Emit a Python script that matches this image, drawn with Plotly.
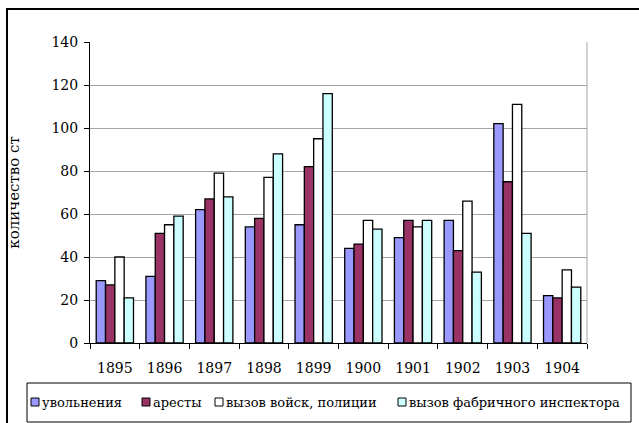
import plotly.graph_objects as go

# data
years = ["1895", "1896", "1897", "1898", "1899", "1900", "1901", "1902", "1903", "1904"]
dismissals = [29, 31, 62, 54, 55, 44, 49, 57, 102, 22]
arrests = [27, 51, 67, 58, 82, 46, 57, 43, 75, 21]
troops = [40, 55, 79, 77, 95, 57, 54, 66, 111, 34]
inspector = [21, 59, 68, 88, 116, 53, 57, 33, 51, 26]

series_names = ["увольнения", "аресты", "вызов войск, полиции", "вызов фабричного инспектора"]
series_colors = ["#9999FF", "#993366", "#FFFFFF", "#CCFFFF"]

# only serif face that actually renders here
serif = "DejaVu Serif"

W, H = 639, 423
# plot area in pixels
L, R, T, B = 90, 587, 42, 343
def px(x):
    return (x - L) / (R - L)
def py(y):
    return (B - y) / (B - T)

fig = go.Figure()
for name, vals, col in zip(series_names, [dismissals, arrests, troops, inspector], series_colors):
    fig.add_trace(go.Bar(
        x=years, y=vals, name=name,
        marker=dict(color=col, line=dict(color="black", width=1.3)),
    ))

shapes = [
    # gray frame on the right of the plot area
    dict(type="line", xref="paper", yref="paper", x0=1, x1=1, y0=0, y1=1,
         line=dict(color="#A6A6A6", width=1)),
    # outer chart border
    dict(type="rect", xref="paper", yref="paper", x0=px(7), x1=px(650), y0=py(440), y1=py(9),
         line=dict(color="black", width=2)),
    # legend box
    dict(type="rect", xref="paper", yref="paper", x0=px(27), x1=px(631), y0=py(422), y1=py(383),
         line=dict(color="black", width=1), fillcolor="white"),
]
annotations = []
# hand made legend: marker left edge in pixels
legend_x = [31, 142, 215, 398]
for name, col, lx in zip(series_names, series_colors, legend_x):
    shapes.append(dict(type="rect", xref="paper", yref="paper",
                       x0=px(lx), x1=px(lx + 8), y0=py(406), y1=py(398),
                       line=dict(color="black", width=1), fillcolor=col))
    annotations.append(dict(text=name, xref="paper", yref="paper", x=px(lx + 9), y=py(402),
                            xanchor="left", yanchor="middle", showarrow=False,
                            font=dict(family=serif, size=13, color="black")))

fig.update_layout(
    width=W, height=H,
    margin=dict(l=L, r=W - R, t=T, b=H - B, autoexpand=False),
    paper_bgcolor="white", plot_bgcolor="white",
    barmode="group", bargap=0.25, bargroupgap=0,
    font=dict(family=serif, size=14, color="black"),
    showlegend=False,
    xaxis=dict(
        showline=True, linecolor="black", linewidth=1,
        ticks="outside", ticklen=5, tickcolor="black", tickson="boundaries",
        showgrid=False, tickfont=dict(family=serif, size=14), tickangle=0,
        ticklabelstandoff=12,
    ),
    yaxis=dict(
        range=[0, 140], dtick=20,
        showline=True, linecolor="black", linewidth=1,
        ticks="outside", ticklen=5, tickcolor="black",
        showgrid=True, gridcolor="#A6A6A6", gridwidth=1,
        zeroline=False, tickfont=dict(family=serif, size=14),
        ticklabelstandoff=3,
        title=dict(text="количество ст", font=dict(family=serif, size=15), standoff=28),
    ),
    shapes=shapes,
    annotations=annotations,
)

# drop the default page margin so the figure starts at the window corner
fig.write_html("out.html", config={"displayModeBar": False},
               post_script="document.body.style.margin='0px';")
